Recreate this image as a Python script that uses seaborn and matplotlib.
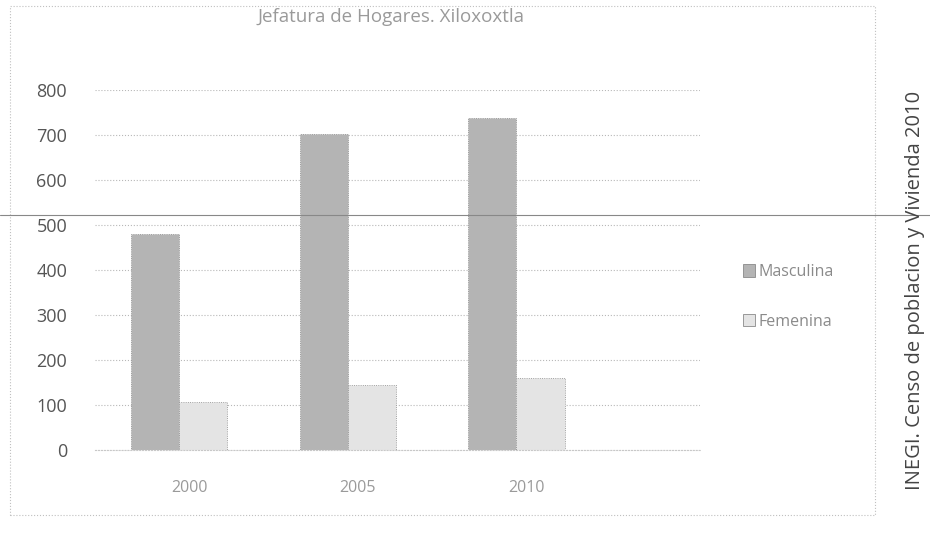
import pandas as pd
import matplotlib.pyplot as plt
import seaborn as sns
from matplotlib.patches import Rectangle, Patch
from matplotlib.lines import Line2D

# datos
anios = ["2000", "2005", "2010"]
masculina = [480, 702, 738]
femenina = [107, 144, 160]
series = ["Masculina", "Femenina"]

df = pd.DataFrame({
    "anio": anios * 2,
    "jefatura": [series[0]] * 3 + [series[1]] * 3,
    "hogares": masculina + femenina,
})

sns.set_style("white")
plt.rcParams["font.family"] = ["Open Sans", "DejaVu Sans"]

fig = plt.figure(figsize=(9.3, 5.33), dpi=100)
ax = fig.add_axes([0.102, 0.156, 0.651, 0.675])

colores = {"Masculina": "#b4b4b4", "Femenina": "#e4e4e4"}
sns.barplot(data=df, x="anio", y="hogares", hue="jefatura", palette=colores,
            width=0.57, edgecolor="#8a8a8a", linewidth=0.6, ax=ax, legend=False)
for p in ax.patches:
    p.set_linestyle(":")

ax.set_ylim(0, 800)
ax.set_xlim(-0.5, 3.09)
ax.set_yticks(range(0, 801, 100))
ax.yaxis.grid(True, color="#b8b8b8", linestyle=":", linewidth=0.8)
ax.set_axisbelow(True)
for s in ["top", "right", "left"]:
    ax.spines[s].set_visible(False)
ax.spines["bottom"].set_color("#c8c8c8")
ax.spines["bottom"].set_linestyle(":")
ax.set_xlabel("")
ax.set_ylabel("")
ax.tick_params(axis="y", length=0, pad=20, labelsize=13, labelcolor="#555555")
ax.tick_params(axis="x", length=0, pad=22, labelsize=11.5, labelcolor="#9a9a9a")
ax.set_xticks([0.06, 1.06, 2.06])
ax.set_xticklabels(anios)

# titulo
fig.text(0.42, 0.985, "Jefatura de Hogares. Xiloxoxtla", ha="center", va="top",
         fontsize=13.5, color="#9a9a9a")

# leyenda
handles = [Patch(facecolor=colores[s], edgecolor="#8a8a8a", linewidth=0.6) for s in series]
fig.legend(handles, series, loc="center left", bbox_to_anchor=(0.783, 0.443),
           frameon=False, fontsize=11.5, labelcolor="#8a8a8a", handlelength=0.8,
           handleheight=0.8, handletextpad=0.2, labelspacing=2.1)

# fuente (texto vertical)
fig.text(0.984, 0.455, "INEGI. Censo de poblacion y Vivienda 2010", rotation=90,
         ha="center", va="center", fontsize=14.5, color="#444444")

# marco punteado exterior
fig.add_artist(Rectangle((0.011, 0.033), 0.93, 0.955, transform=fig.transFigure,
                         fill=False, edgecolor="#c0c0c0", linestyle=":", linewidth=0.8))

# linea del escaneo
fig.add_artist(Line2D([0, 1], [0.597, 0.597], transform=fig.transFigure,
                      color="#888888", linewidth=0.8))

fig.savefig("out.png", dpi=100, facecolor="white")
